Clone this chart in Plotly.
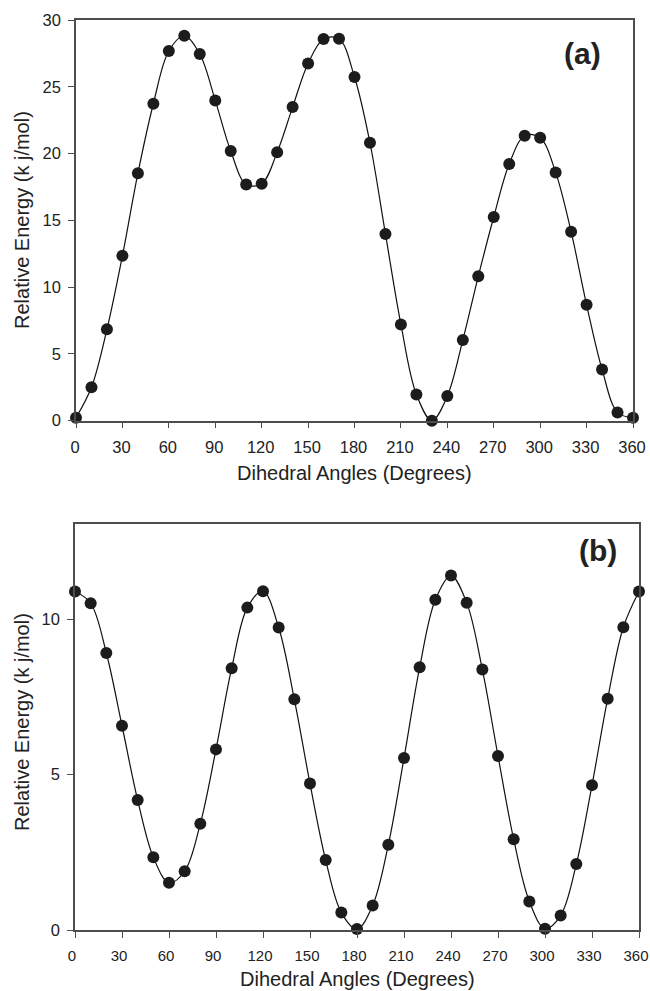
import plotly.graph_objects as go

angles = list(range(0, 361, 10))

energy_a = [0.22, 2.5, 6.84, 12.35, 18.52, 23.73, 27.68, 28.82, 27.45, 23.98,
            20.19, 17.69, 17.74, 20.09, 23.48, 26.75, 28.57, 28.6, 25.73, 20.81,
            13.98, 7.21, 1.97, 0.0, 1.85, 6.04, 10.81, 15.25, 19.22, 21.34,
            21.19, 18.59, 14.15, 8.68, 3.84, 0.62, 0.22]

energy_b = [10.89, 10.51, 8.91, 6.57, 4.18, 2.34, 1.52, 1.89, 3.42, 5.81,
            8.42, 10.37, 10.90, 9.73, 7.42, 4.71, 2.25, 0.56, 0.03, 0.79,
            2.74, 5.53, 8.45, 10.62, 11.40, 10.53, 8.38, 5.60, 2.92, 0.92,
            0.04, 0.47, 2.12, 4.66, 7.44, 9.74, 10.89]

x_ticks = list(range(0, 361, 30))
y_ticks_a = [0, 5, 10, 15, 20, 25, 30]
y_ticks_b = [0, 5, 10]

panel_labels = ["(a)", "(b)"]
x_title = "Dihedral Angles (Degrees)"
y_title = "Relative Energy (k j/mol)"

W, H = 650, 991
FONT = "Liberation Sans, Arial, sans-serif"
AX = "#4d4d4d"
MK = "#1c1c1c"
TXT = "#222222"

fig = go.Figure()
for yv, xa, ya in [(energy_a, "x", "y"), (energy_b, "x2", "y2")]:
    fig.add_trace(go.Scatter(
        x=angles, y=yv, xaxis=xa, yaxis=ya, mode="lines+markers",
        line=dict(color="#111111", width=1.2, shape="spline", smoothing=1.0),
        marker=dict(size=12, color=MK, line=dict(width=0)),
        cliponaxis=False, showlegend=False,
    ))

def xax(domain, anchor, fsize, shift):
    return dict(domain=domain, anchor=anchor, range=[0, 360], tickmode="array",
                tickvals=x_ticks, ticks="outside", ticklen=6, tickwidth=1.2,
                tickcolor=AX, showline=True, linecolor=AX, linewidth=1.5,
                mirror=True, showgrid=False, zeroline=False, automargin=False,
                ticklabelstandoff=5, ticklabeloverflow="allow", ticklabelshift=shift,
                tickfont=dict(family=FONT, size=fsize, color=TXT))

def yax(domain, anchor, rng, ticks):
    return dict(domain=domain, anchor=anchor, range=rng, tickmode="array",
                tickvals=ticks, ticks="outside", ticklen=6, tickwidth=1.2,
                tickcolor=AX, showline=True, linecolor=AX, linewidth=1.5,
                mirror=True, showgrid=False, zeroline=False, automargin=False,
                ticklabelstandoff=4, ticklabeloverflow="allow",
                tickfont=dict(family=FONT, size=16.5, color=TXT))

def note(text, x, y, xa="center", ya="middle", size=20, angle=0, bold=False):
    return dict(text=("<b>%s</b>" % text) if bold else text, xref="paper", yref="paper",
                x=x / W, y=1 - y / H, xanchor=xa, yanchor=ya, textangle=angle,
                showarrow=False, font=dict(family=FONT, size=size, color=TXT))

fig.update_layout(
    width=W, height=H, margin=dict(l=0, r=0, t=0, b=0),
    paper_bgcolor="white", plot_bgcolor="white",
    xaxis=xax([76 / W, 633 / W], "y", 16.5, -1),
    yaxis=yax([1 - 420.7 / H, 1 - 20 / H], "x", [0, 30], y_ticks_a),
    xaxis2=xax([75 / W, 639 / W], "y2", 15, -3),
    yaxis2=yax([1 - 930 / H, 1 - 524.3 / H], "x2", [0, 13.05], y_ticks_b),
    annotations=[
        note(panel_labels[0], 582.5, 54, size=30, bold=True),
        note(panel_labels[1], 598, 550, size=30, bold=True),
        note(x_title, 354.5, 460, ya="top"),
        note(x_title, 357, 966, ya="top"),
        note(y_title, 22, 220, angle=-90),
        note(y_title, 22, 722, angle=-90),
    ],
)

fig.write_html("out.html")
